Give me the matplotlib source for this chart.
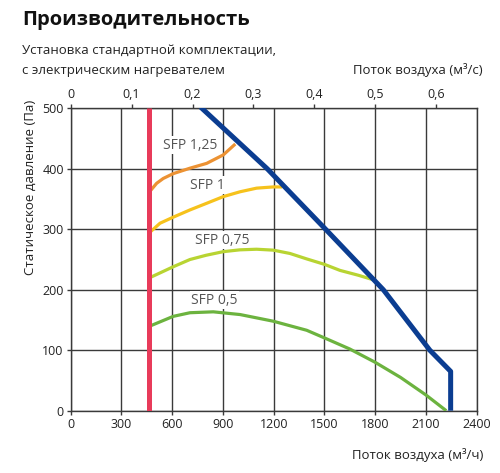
import numpy as np
import matplotlib
matplotlib.use('Agg')
import matplotlib.pyplot as plt
from matplotlib.ticker import FixedLocator, FuncFormatter

plt.rcParams['font.family'] = ['Open Sans', 'DejaVu Sans']

# --- data (x: m3/h, y: Pa) ---
min_flow = 460

max_x = [768, 1162, 1507, 1848, 2123, 2246, 2246]
max_y = [502, 400, 300, 200, 100, 65, 0]

sfp125_x = [460, 475, 508, 547, 606, 705, 804, 902, 973]
sfp125_y = [360, 365, 376, 384, 392, 401, 409, 423, 441]

sfp1_x = [460, 528, 606, 705, 804, 902, 1001, 1099, 1197, 1250]
sfp1_y = [293, 310, 320, 332, 343, 354, 362, 368, 370, 370]

sfp075_x = [460, 606, 705, 800, 902, 1000, 1099, 1197, 1296, 1395, 1500, 1592, 1700, 1795]
sfp075_y = [219, 238, 250, 257, 263, 266, 267, 265.5, 260, 251, 242, 232, 224, 216]

sfp05_x = [460, 606, 705, 843, 1001, 1197, 1395, 1503, 1650, 1800, 1950, 2100, 2220]
sfp05_y = [139, 156, 162, 163.5, 159, 148, 133, 120, 102, 80, 55, 26, 0]

labels = ['SFP 1,25', 'SFP 1', 'SFP 0,75', 'SFP 0,5']
label_pos = [(705, 439), (806, 373), (894, 282), (848, 183)]

x_ticks = [0, 300, 600, 900, 1200, 1500, 1800, 2100, 2400]
y_ticks = [0, 100, 200, 300, 400, 500]
top_ticks = [0, 0.1, 0.2, 0.3, 0.4, 0.5, 0.6]

grid_c = '#3a3a3a'
text_c = '#222222'

fig = plt.figure(figsize=(5.0, 4.73), dpi=100)
ax = fig.add_axes([0.1414, 0.1317, 0.812, 0.6393])

ax.set_xlim(0, 2400)
ax.set_ylim(0, 500)
ax.set_xticks(x_ticks)
ax.set_yticks(y_ticks)
ax.grid(True, color=grid_c, linewidth=1.0)
for s in ax.spines.values():
    s.set_color(grid_c)
    s.set_linewidth(1.0)
ax.tick_params(axis='both', colors=grid_c, labelcolor=text_c, labelsize=9, length=3, width=1, pad=2)

curve_kw = dict(lw=2.3, solid_capstyle='butt', solid_joinstyle='round', zorder=3)
ax.plot(sfp05_x, sfp05_y, color='#6cb33f', **curve_kw)
ax.plot(sfp075_x, sfp075_y, color='#b8d432', **curve_kw)
ax.plot(sfp1_x, sfp1_y, color='#f6c21c', **curve_kw)
ax.plot(sfp125_x, sfp125_y, color='#ec9233', **curve_kw)
ax.plot(max_x, max_y, color='#0b3d91', lw=3.6, solid_capstyle='butt', zorder=4)
ax.plot([min_flow, min_flow], [0, 500], color='#e83b5a', lw=3.6, solid_capstyle='butt', zorder=5)

for lab, (lx, ly) in zip(labels, label_pos):
    ax.text(lx, ly, lab, ha='center', va='center', fontsize=10, color='#555555', zorder=2,
            bbox=dict(facecolor='white', edgecolor='none', pad=1.0))

# top axis in m3/s
top = ax.secondary_xaxis('top', functions=(lambda v: v / 3600.0, lambda v: v * 3600.0))
top.xaxis.set_major_locator(FixedLocator(top_ticks))
top.xaxis.set_major_formatter(FuncFormatter(lambda v, p: ('%g' % round(v, 1)).replace('.', ',')))
top.tick_params(colors=grid_c, labelcolor=text_c, labelsize=9, length=3, width=1, pad=2)
top.spines['top'].set_visible(False)

fig.text(0.044, 0.958, 'Производительность', fontsize=14.5, fontweight='bold', color='#111111', va='center')
fig.text(0.044, 0.893, 'Установка стандартной комплектации,', fontsize=9.5, color=text_c, va='center')
fig.text(0.044, 0.852, 'с электрическим нагревателем', fontsize=9.5, color=text_c, va='center')
fig.text(0.966, 0.852, 'Поток воздуха (м³/с)', fontsize=9.5, color=text_c, va='center', ha='right')
fig.text(0.966, 0.038, 'Поток воздуха (м³/ч)', fontsize=9.5, color=text_c, va='center', ha='right')
fig.text(0.06, 0.603, 'Статическое давление (Па)', fontsize=9.5, color=text_c, va='center', ha='center',
         rotation=90)

fig.savefig('out.png', dpi=100)
